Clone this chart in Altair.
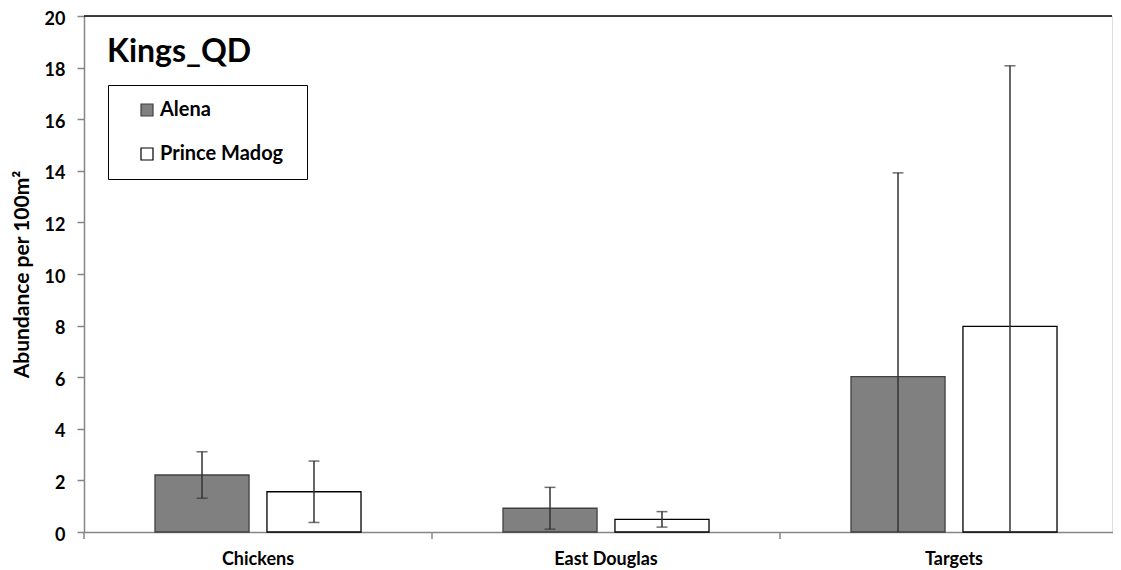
import altair as alt
import pandas as pd

sites = ["Chickens", "East Douglas", "Targets"]
series = ["Alena", "Prince Madog"]
alena_mean = [2.21, 0.92, 6.02]
alena_err = [0.90, 0.81, 7.90]
madog_mean = [1.56, 0.49, 7.97]
madog_err = [1.19, 0.30, 10.10]

rows = []
for i, s in enumerate(sites):
    rows.append({"site": s, "vessel": "Alena", "mean": alena_mean[i], "err": alena_err[i]})
    rows.append({"site": s, "vessel": "Prince Madog", "mean": madog_mean[i], "err": madog_err[i]})
df = pd.DataFrame(rows)
df["lo"] = df["mean"] - df["err"]
df["hi"] = df["mean"] + df["err"]

FONT = "Lato"
W, H = 1028, 516

xscale = alt.Scale(domain=sites, paddingInner=0, paddingOuter=0, rangeMax=1044)
xoff = alt.Scale(domain=series, paddingInner=0.16, paddingOuter=0.634)
yscale = alt.Scale(domain=[0, 20], nice=False)

x_enc = alt.X("site:N", scale=xscale, sort=sites,
              axis=alt.Axis(title=None, ticks=False, domain=True, domainColor="#868686",
                            domainWidth=1.5, labelAngle=0, labelFont=FONT, labelFontSize=18,
                            labelFontWeight="bold", labelColor="#000", labelPadding=18))
xo_enc = alt.XOffset("vessel:N", scale=xoff, sort=series)

base = alt.Chart(df)

bars = base.mark_bar(strokeWidth=1.3).encode(
    x=x_enc,
    xOffset=xo_enc,
    y=alt.Y("mean:Q", scale=yscale,
            axis=alt.Axis(title="Abundance per 100m²", values=list(range(0, 21, 2)),
                          grid=False, domainColor="#868686", domainWidth=1.5,
                          tickColor="#868686", tickSize=7, tickWidth=1.5,
                          labelFont=FONT, labelFontSize=18, labelFontWeight="bold",
                          labelColor="#000", labelPadding=12, labelOffset=3,
                          titleFont=FONT, titleFontSize=21, titleFontWeight="bold",
                          titleColor="#000", titlePadding=12)),
    fill=alt.Fill("vessel:N", scale=alt.Scale(domain=series, range=["#808080", "#ffffff"]),
                  legend=alt.Legend(title="\u00a0", titleOrient="right", titlePadding=9,
                                    titleFontSize=12,
                                    orient="none", legendX=24, legendY=69,
                                    direction="vertical", symbolType="square",
                                    symbolSize=144, symbolStrokeColor="#333",
                                    symbolStrokeWidth=1.2, labelFont=FONT,
                                    labelFontSize=20, labelFontWeight="bold",
                                    labelColor="#000", labelOffset=3, labelLimit=300,
                                    rowPadding=24, padding=15, symbolOffset=14,
                                    strokeColor="#000", fillColor="#fff")),
    stroke=alt.Stroke("vessel:N", scale=alt.Scale(domain=series, range=["#404040", "#000000"]),
                      legend=None),
)

rules = base.mark_rule(color="#333", strokeWidth=1.5, clip=True).encode(
    x=alt.X("site:N", scale=xscale, sort=sites),
    xOffset=xo_enc,
    y=alt.Y("lo:Q", scale=yscale),
    y2="hi:Q",
)

caps_hi = base.mark_tick(color="#333", thickness=1.5, size=11, clip=True, orient="horizontal").encode(
    x=alt.X("site:N", scale=xscale, sort=sites),
    xOffset=xo_enc,
    y=alt.Y("hi:Q", scale=yscale),
)
caps_lo = base.mark_tick(color="#333", thickness=1.5, size=11, clip=True, orient="horizontal").encode(
    x=alt.X("site:N", scale=xscale, sort=sites),
    xOffset=xo_enc,
    y=alt.Y("lo:Q", scale=yscale),
)

top_line = alt.Chart(pd.DataFrame({"v": [20]})).mark_rule(color="#000", strokeWidth=1.5).encode(
    y=alt.Y("v:Q", scale=yscale)
)

bound_df = pd.DataFrame({"site": sites})
xticks = alt.Chart(bound_df).mark_rule(color="#868686", strokeWidth=1.5).encode(
    x=alt.X("site:N", scale=xscale, sort=sites, bandPosition=0),
    y=alt.value(H),
    y2=alt.value(H + 7),
)

title = alt.Chart(pd.DataFrame({"t": ["Kings_QD"]})).mark_text(
    align="left", baseline="alphabetic", font=FONT, fontSize=32, fontWeight="bold", color="#000"
).encode(text="t:N", x=alt.value(23), y=alt.value(46))

chart = alt.layer(bars, rules, caps_hi, caps_lo, top_line, xticks, title).properties(
    width=W, height=H,
    autosize=alt.AutoSizeParams(type="none"),
    padding={"left": 76, "top": 8, "right": 1, "bottom": 36},
).configure_view(stroke="transparent", strokeWidth=0).configure(background="#ffffff")

chart.save("out.html", embed_options={"renderer": "svg", "actions": False})
